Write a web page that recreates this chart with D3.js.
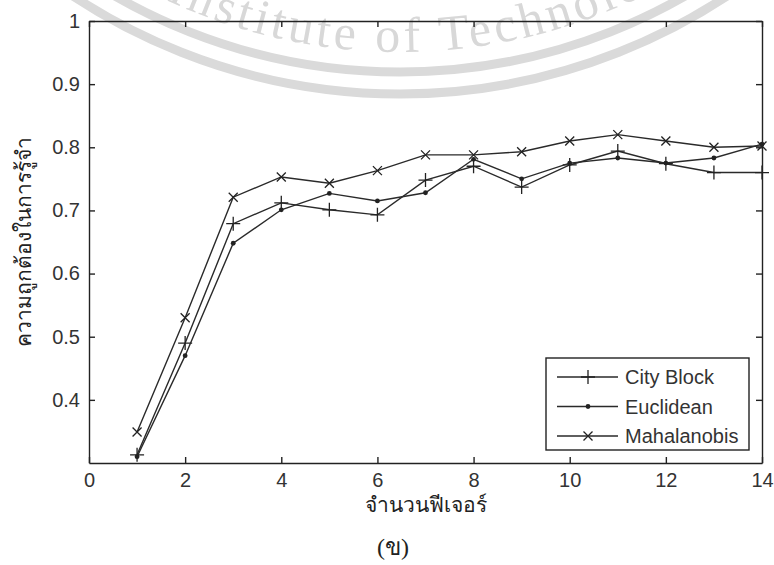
<!DOCTYPE html>
<html>
<head>
<meta charset="utf-8">
<script src="https://cdn.jsdelivr.net/npm/d3@7"></script>
<style>
  html, body { margin: 0; padding: 0; background: #fff; }
  svg { display: block; }
  .axis text { font-family: "Liberation Sans", Arial, sans-serif; font-size: 20px; fill: #333; }
  .axis path, .axis line { stroke: #222; stroke-width: 1.4; }
</style>
</head>
<body>
<script>
// Number of features on the x axis
const features = [1, 2, 3, 4, 5, 6, 7, 8, 9, 10, 11, 12, 13, 14];

// Recognition accuracy for each distance measure
const cityBlock   = [0.313, 0.490, 0.679, 0.712, 0.701, 0.693, 0.748, 0.770, 0.737, 0.772, 0.794, 0.774, 0.760, 0.760];
const euclidean   = [0.310, 0.470, 0.648, 0.701, 0.727, 0.715, 0.728, 0.781, 0.750, 0.775, 0.783, 0.775, 0.783, 0.805];
const mahalanobis = [0.349, 0.530, 0.721, 0.753, 0.743, 0.763, 0.788, 0.788, 0.793, 0.810, 0.820, 0.810, 0.800, 0.802];

const seriesNames = ["City Block", "Euclidean", "Mahalanobis"];
const seriesMarkers = ["plus", "dot", "cross"];

const xTicks = [0, 2, 4, 6, 8, 10, 12, 14];
const yTicks = [0.4, 0.5, 0.6, 0.7, 0.8, 0.9, 1];

const W = 774, H = 565;
const plotL = 89, plotR = 762, plotT = 21, plotB = 463;

const svg = d3.select("body").append("svg").attr("width", W).attr("height", H);

// faint seal in the page background
const wm = svg.append("g").attr("fill", "none").attr("stroke", "#dadada");
const cx = 400, cy = -500;
[572, 594].forEach(r => {
  wm.append("circle").attr("cx", cx).attr("cy", cy).attr("r", r).attr("stroke-width", 9);
});
const rText = 552;
svg.append("defs").append("path")
  .attr("id", "sealArc")
  .attr("d", `M ${cx - rText} ${cy} A ${rText} ${rText} 0 0 0 ${cx + rText} ${cy}`);
svg.append("text")
  .attr("font-family", "Liberation Serif, serif")
  .attr("font-size", 50)
  .attr("letter-spacing", 4)
  .attr("fill", "#d8d8d8")
  .append("textPath")
  .attr("href", "#sealArc")
  .attr("startOffset", Math.PI * rText / 2 + 37)
  .attr("text-anchor", "middle")
  .text("Institute of Technology");

const x = d3.scaleLinear().domain([0, 14]).range([plotL, plotR]);
const y = d3.scaleLinear().domain([0.3, 1]).range([plotB, plotT]);

// axes box with inward ticks on all four sides
svg.append("g").attr("class", "axis").attr("transform", `translate(0,${plotB})`)
  .call(d3.axisBottom(x).tickValues(xTicks).tickSize(-6).tickPadding(10).tickSizeOuter(0).tickFormat(d3.format("d")));
svg.append("g").attr("class", "axis").attr("transform", `translate(0,${plotT})`)
  .call(d3.axisTop(x).tickValues(xTicks).tickSize(-6).tickSizeOuter(0).tickFormat(""));
svg.append("g").attr("class", "axis").attr("transform", `translate(${plotL},0)`)
  .call(d3.axisLeft(y).tickValues(yTicks).tickSize(-6).tickPadding(9).tickSizeOuter(0).tickFormat(d => d === 1 ? "1" : d3.format(".1f")(d)));
svg.append("g").attr("class", "axis").attr("transform", `translate(${plotR},0)`)
  .call(d3.axisRight(y).tickValues(yTicks).tickSize(-6).tickSizeOuter(0).tickFormat(""));

// marker drawing
function marker(g, type, px, py) {
  if (type === "plus") {
    g.append("path").attr("d", `M${px - 7},${py}H${px + 7}M${px},${py - 7}V${py + 7}`)
      .attr("stroke", "#222").attr("stroke-width", 1.3).attr("fill", "none");
  } else if (type === "cross") {
    const s = 4.5;
    g.append("path").attr("d", `M${px - s},${py - s}L${px + s},${py + s}M${px - s},${py + s}L${px + s},${py - s}`)
      .attr("stroke", "#222").attr("stroke-width", 1.3).attr("fill", "none");
  } else {
    g.append("circle").attr("cx", px).attr("cy", py).attr("r", 2.4).attr("fill", "#222");
  }
}

const line = d3.line().x((d, i) => x(features[i])).y(d => y(d));
const allSeries = [cityBlock, euclidean, mahalanobis];
const plot = svg.append("g");
allSeries.forEach((vals, k) => {
  plot.append("path").datum(vals).attr("d", line)
    .attr("fill", "none").attr("stroke", "#2a2a2a").attr("stroke-width", 1.4);
  vals.forEach((v, i) => marker(plot, seriesMarkers[k], x(features[i]), y(v)));
});

// legend
const lg = svg.append("g");
lg.append("rect").attr("x", 546).attr("y", 358).attr("width", 203).attr("height", 92)
  .attr("fill", "#fff").attr("stroke", "#222").attr("stroke-width", 1.4);
seriesNames.forEach((name, k) => {
  const ly = 377 + k * 29.5;
  lg.append("line").attr("x1", 557).attr("x2", 618).attr("y1", ly).attr("y2", ly)
    .attr("stroke", "#2a2a2a").attr("stroke-width", 1.4);
  marker(lg, seriesMarkers[k], 588, ly);
  lg.append("text").attr("x", 625).attr("y", ly).attr("dy", "0.36em")
    .attr("font-family", "Liberation Sans, Arial, sans-serif").attr("font-size", 20)
    .attr("fill", "#333").text(name);
});

// axis titles
svg.append("text").attr("x", 426).attr("y", 512).attr("text-anchor", "middle")
  .attr("font-size", 21).attr("fill", "#222").text("จำนวนฟีเจอร์");
svg.append("text").attr("transform", "translate(31,242) rotate(-90)").attr("text-anchor", "middle")
  .attr("font-size", 21).attr("fill", "#222").text("ความถูกต้องในการรู้จำ");
svg.append("text").attr("x", 393).attr("y", 555).attr("text-anchor", "middle")
  .attr("font-size", 24).attr("fill", "#222").text("(ข)");
</script>
</body>
</html>
